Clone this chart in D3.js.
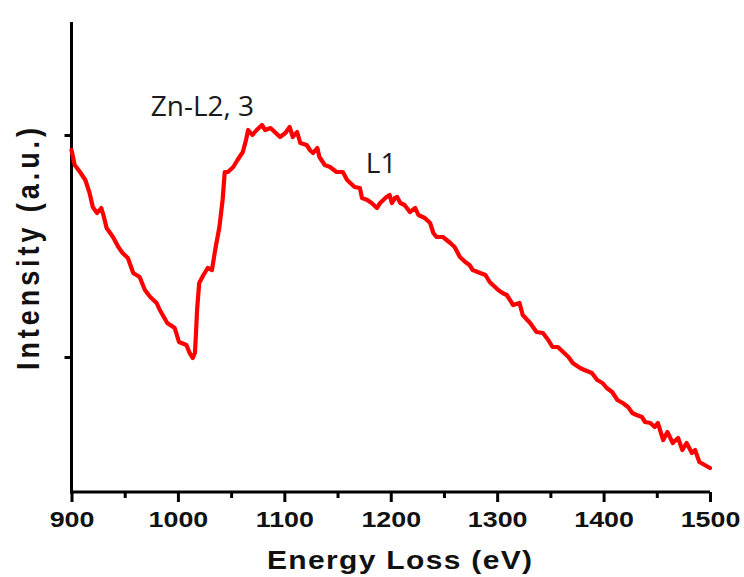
<!DOCTYPE html>
<html>
<head>
<meta charset="utf-8">
<script src="https://cdn.jsdelivr.net/npm/d3@7"></script>
<style>
  html, body { margin: 0; padding: 0; background: #fff; }
  svg { display: block; }
</style>
</head>
<body>
<svg id="chart" width="744" height="577"></svg>
<script>
// Energy loss (eV)
const energy = [
  900, 903, 908, 913, 917, 920, 924, 928, 930, 933, 939, 944, 948, 953, 958, 964, 969, 974, 980, 983,
  990, 997, 1001, 1008, 1011, 1014, 1016, 1017, 1018, 1020, 1024, 1028, 1032, 1035, 1039, 1042, 1044, 1047,
  1052, 1056, 1061, 1064, 1066, 1070, 1074, 1079, 1082, 1087, 1091, 1096, 1101, 1105, 1108, 1112, 1115,
  1121, 1124, 1127, 1131, 1133, 1138, 1143, 1149, 1155, 1159, 1162, 1166, 1171, 1173, 1178, 1182, 1187,
  1190, 1193, 1196, 1199, 1201, 1204, 1206, 1209, 1213, 1218, 1223, 1226, 1232, 1237, 1240, 1243, 1249,
  1256, 1260, 1265, 1270, 1274, 1277, 1284, 1289, 1293, 1296, 1301, 1305, 1309, 1315, 1321, 1324, 1331,
  1337, 1343, 1348, 1352, 1357, 1362, 1367, 1371, 1378, 1382, 1389, 1394, 1399, 1403, 1408, 1413, 1418,
  1423, 1427, 1431, 1436, 1439, 1444, 1448, 1451, 1456, 1460, 1465, 1470, 1474, 1478, 1483, 1486, 1490,
  1495, 1500
];
// Intensity (a.u.)
const intensity = [
  3400, 3250, 3180, 3100, 2970, 2830, 2770, 2820, 2750, 2620, 2530, 2430, 2370, 2320, 2170, 2130, 2000, 1930, 1870, 1800,
  1670, 1620, 1480, 1450, 1370, 1320, 1370, 1570, 1800, 2070, 2150, 2220, 2200, 2400, 2630, 2900, 3180, 3180,
  3230, 3300, 3380, 3500, 3600, 3550, 3600, 3650, 3600, 3620, 3580, 3530, 3570, 3630, 3530, 3580, 3470,
  3450, 3400, 3370, 3420, 3330, 3250, 3230, 3180, 3180, 3100, 3070, 3030, 3020, 2920, 2900, 2870, 2820,
  2870, 2900, 2930, 2950, 2870, 2920, 2930, 2870, 2850, 2780, 2820, 2750, 2720, 2670, 2570, 2530, 2530,
  2470, 2430, 2330, 2280, 2250, 2200, 2170, 2150, 2080, 2050, 2000, 1970, 1950, 1850, 1870, 1750, 1670,
  1580, 1570, 1500, 1430, 1430, 1380, 1330, 1270, 1220, 1200, 1170, 1100, 1070, 1020, 980, 900, 870,
  830, 770, 750, 730, 680, 670, 630, 670, 500, 580, 470, 520, 400, 470, 370, 400, 280,
  250, 220
];
const xDomain = [900, 1500];
const xMajorTicks = [900, 1000, 1100, 1200, 1300, 1400, 1500];
const xMinorTicks = [950, 1050, 1150, 1250, 1350, 1450];
const yDomain = [-20, 4680];
const yTicks = [1330, 3550];
const xTitle = "Energy Loss (eV)";
const yTitle = "Intensity (a.u.)";
const annotationLabels = ["Zn-L2, 3", "L1"];
const annotationEnergy = [1023, 1191];
const annotationIntensity = [3740, 3170];

const data = energy.map((e, i) => ({ e, v: intensity[i] }));
const annotations = annotationLabels.map((t, i) => ({ text: t, e: annotationEnergy[i], v: annotationIntensity[i] }));

const svg = d3.select("#chart");
const mLeft = 71.5, mRight = 710, mTop = 22, mBottom = 492;

const x = d3.scaleLinear().domain(xDomain).range([mLeft, mRight]);
const y = d3.scaleLinear().domain(yDomain).range([mBottom, mTop]);

const axisFont = "'Liberation Sans', Arial, sans-serif";

// minor x ticks
const xMinor = svg.append("g")
  .attr("transform", `translate(0,${mBottom})`)
  .call(d3.axisBottom(x).tickValues(xMinorTicks).tickSize(6).tickFormat(""));
xMinor.select(".domain").remove();
xMinor.selectAll("line").attr("stroke", "#000").attr("stroke-width", 3);

// major x ticks
const xAxis = svg.append("g")
  .attr("transform", `translate(0,${mBottom})`)
  .call(d3.axisBottom(x).tickValues(xMajorTicks).tickSize(10).tickSizeOuter(0).tickPadding(9).tickFormat(d3.format("d")));
xAxis.select(".domain").attr("stroke", "#000").attr("stroke-width", 3)
  .attr("d", `M${mLeft - 1.5},0H${mRight}`);
xAxis.selectAll("line").attr("stroke", "#000").attr("stroke-width", 3);
xAxis.selectAll("text")
  .attr("fill", "#111")
  .attr("transform", "scale(1.22,1)")
  .style("font-family", axisFont)
  .style("font-weight", "bold")
  .style("font-size", "22px");

// y axis
const yAxis = svg.append("g")
  .attr("transform", `translate(${mLeft},0)`)
  .call(d3.axisLeft(y).tickValues(yTicks).tickSize(7).tickSizeOuter(0).tickFormat(""));
yAxis.select(".domain").attr("stroke", "#000").attr("stroke-width", 3)
  .attr("d", `M0,${mTop}V${mBottom + 1.5}`);
yAxis.selectAll("line").attr("stroke", "#000").attr("stroke-width", 3);

// line
const line = d3.line().x(d => x(d.e)).y(d => y(d.v));
svg.append("path")
  .datum(data)
  .attr("fill", "none")
  .attr("stroke", "#ff0000")
  .attr("stroke-width", 4.2)
  .attr("stroke-linejoin", "round")
  .attr("stroke-linecap", "round")
  .attr("d", line);

// axis titles
svg.append("text")
  .attr("transform", "translate(267,569) scale(1.2,1)")
  .attr("textLength", 265 / 1.2).attr("lengthAdjust", "spacing")
  .attr("fill", "#111")
  .style("font-family", axisFont)
  .style("font-weight", "bold")
  .style("font-size", "25px")
  .text(xTitle);

svg.append("text")
  .attr("transform", "translate(39,370) scale(1.15,1) rotate(-90)")
  .attr("textLength", 242).attr("lengthAdjust", "spacing")
  .attr("fill", "#111")
  .style("font-family", axisFont)
  .style("font-weight", "bold")
  .style("font-size", "27px")
  .text(yTitle);

// annotations
svg.selectAll("text.anno")
  .data(annotations)
  .enter().append("text")
  .attr("class", "anno")
  .attr("x", d => x(d.e))
  .attr("y", d => y(d.v))
  .attr("text-anchor", "middle")
  .attr("fill", "#1a1a1a")
  .style("font-family", "'Open Sans', sans-serif")
  .style("font-size", "28px")
  .text(d => d.text);
</script>
</body>
</html>
